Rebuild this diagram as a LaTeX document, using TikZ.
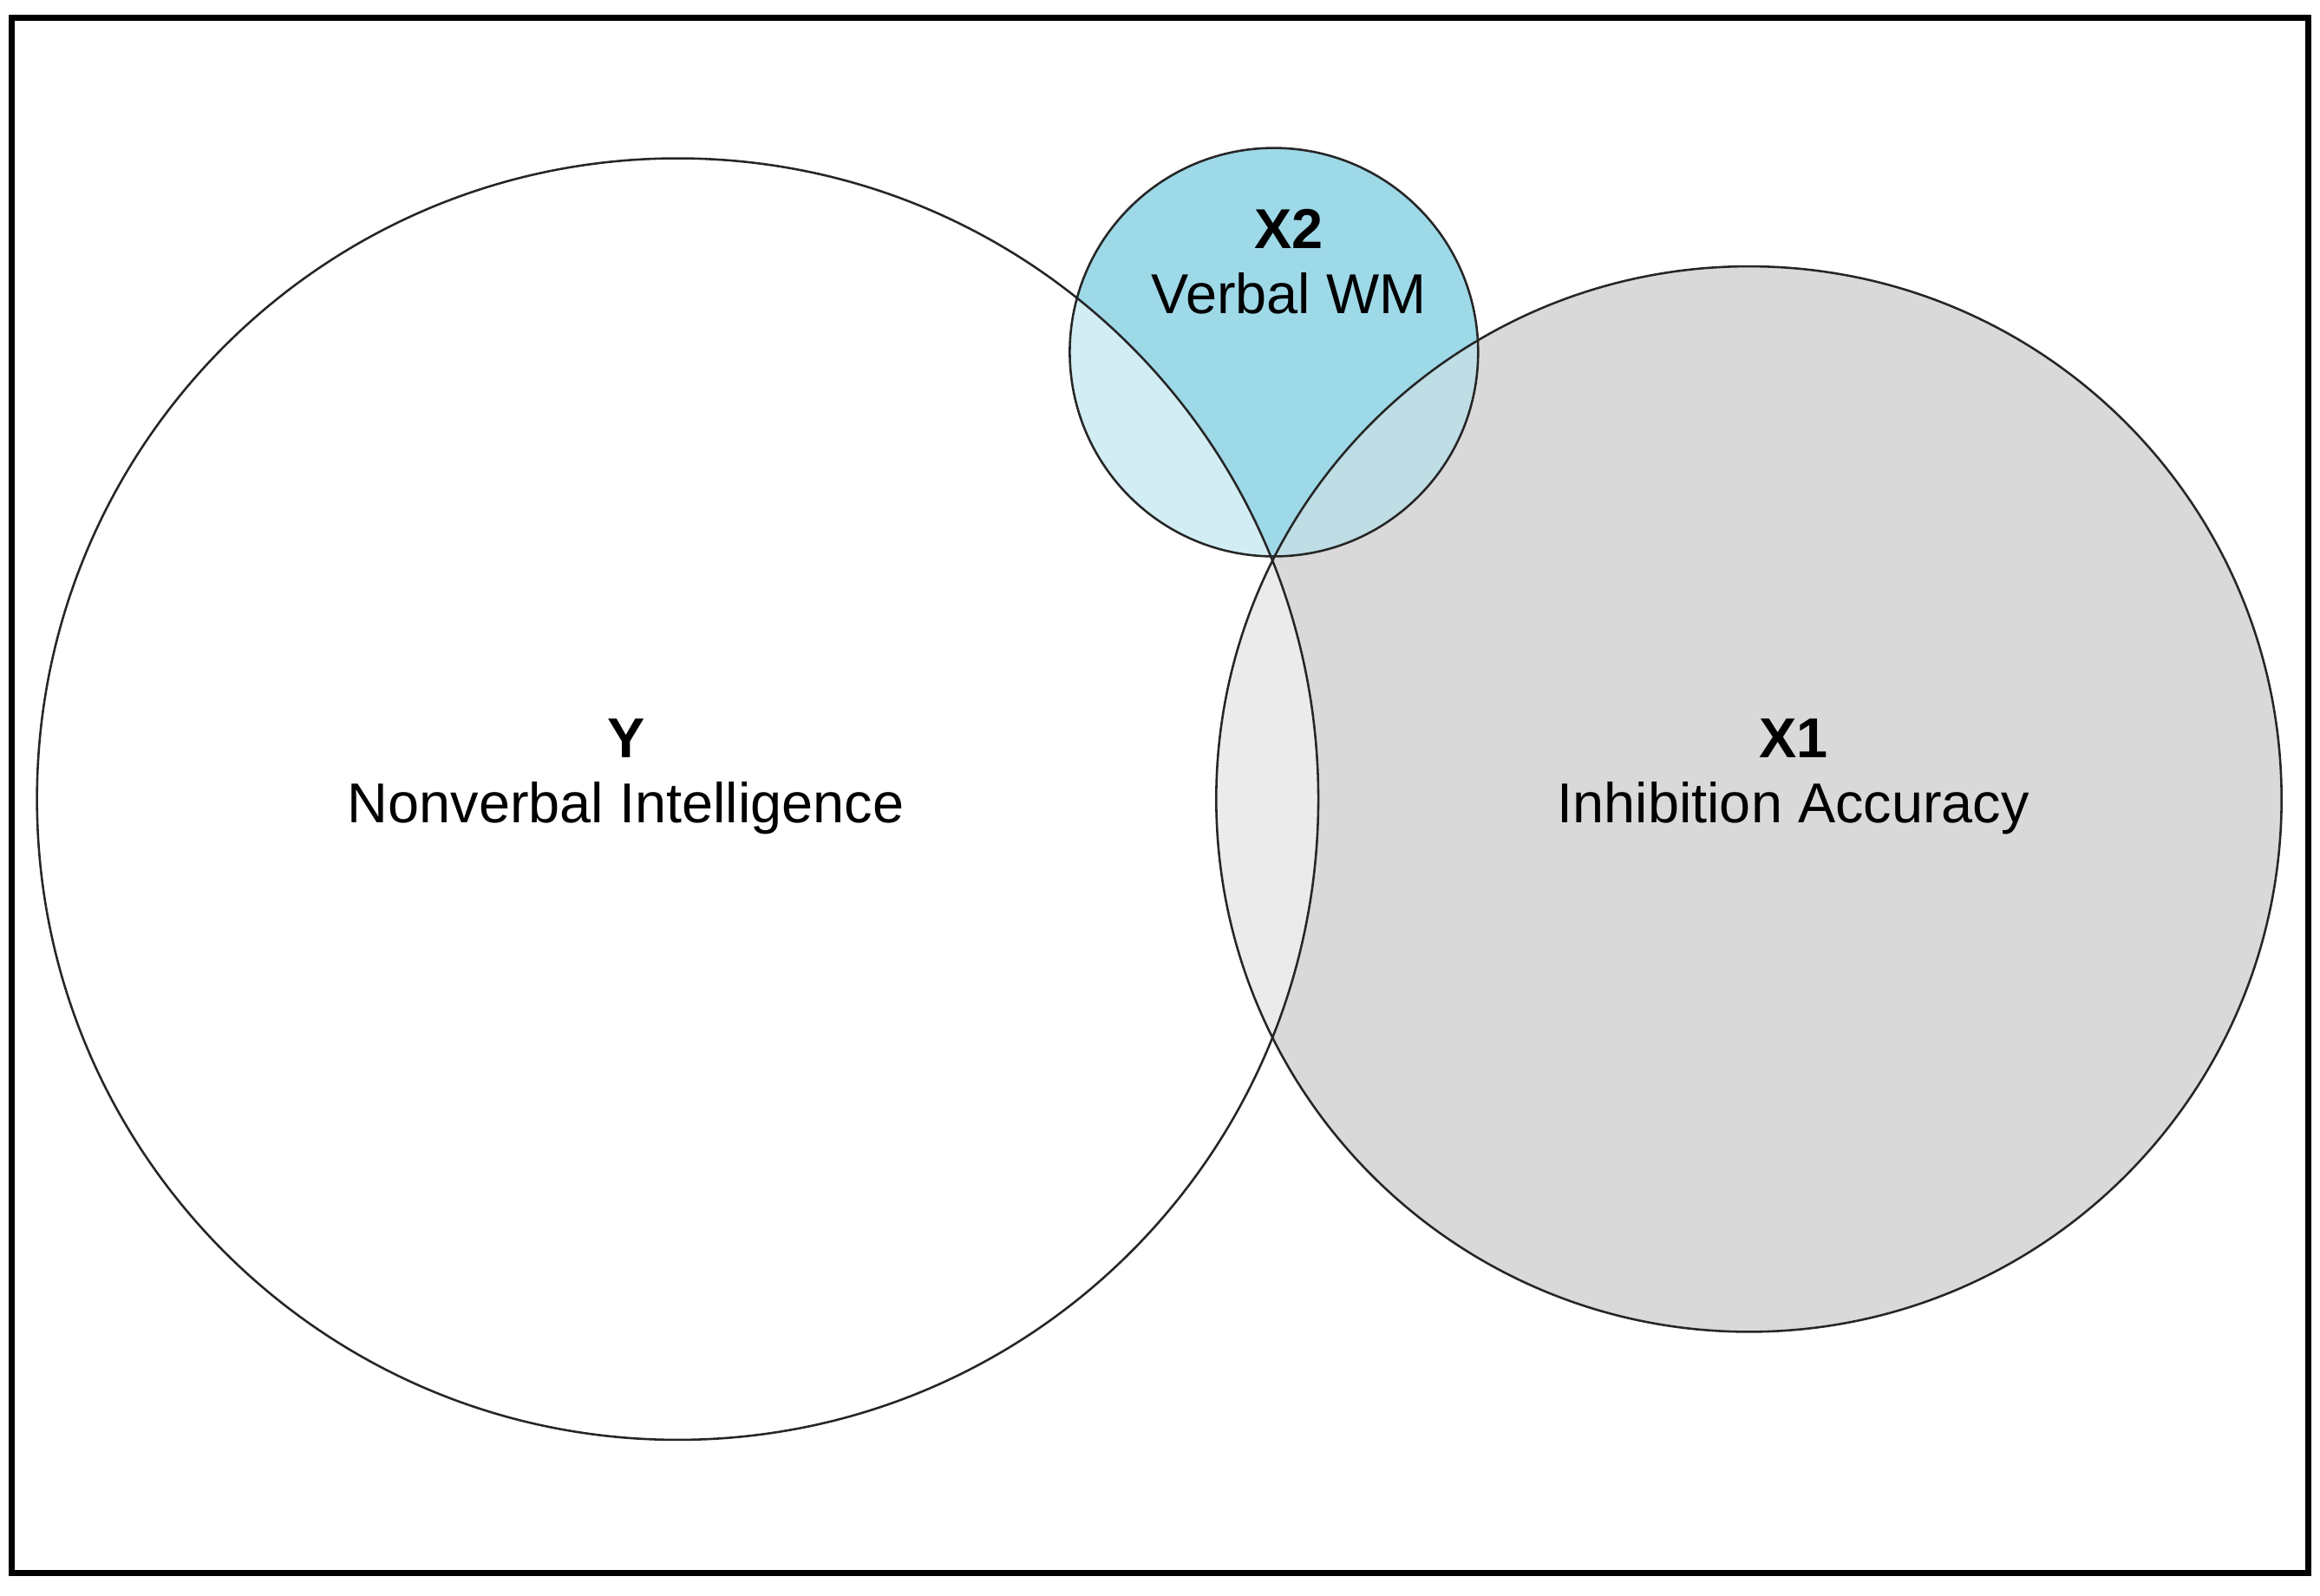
\documentclass[tikz,border=0pt]{standalone}
\usepackage{fontspec}
\setmainfont{Liberation Sans}
\begin{document}
\begin{tikzpicture}[x=1pt,y=-1pt,
  ring/.style={draw=black!85,line width=1.5pt},
  lab/.style={align=center,font=\fontsize{38}{44}\selectfont,inner sep=0pt}]
\useasboundingbox (0,0) rectangle (1568,1078);
\fill[white] (0,0) rectangle (1568,1078);
\def\Y{(458,540) circle[radius=433]}
\def\Xa{(1182,540) circle[radius=360]}
\def\Xb{(861,238) circle[radius=138]}
\fill[white] \Y;
\fill[black!15] \Xa;
\fill[cyan!10!white!60!cyan!55] \Xb;
\fill[color={rgb,255:red,158;green,217;blue,232}] \Xb;
\begin{scope}\clip \Y; \fill[color={rgb,255:red,210;green,237;blue,244}] \Xb; \fill[color={rgb,255:red,235;green,235;blue,235}] \Xa; \end{scope}
\begin{scope}\clip \Xa; \fill[color={rgb,255:red,190;green,221;blue,228}] \Xb; \end{scope}
\draw[ring] \Y; \draw[ring] \Xa; \draw[ring] \Xb;
\node[lab] (ly) at (423,525) {\textbf{Y}\\Nonverbal Intelligence};
\node[lab] (lx1) at (1212,525) {\textbf{X1}\\Inhibition Accuracy};
\node[lab] (lx2) at (871,177) {\textbf{X2}\\Verbal WM};
\draw[line width=4pt] (8,12) rectangle (1560,1063);
\end{tikzpicture}
\end{document}
